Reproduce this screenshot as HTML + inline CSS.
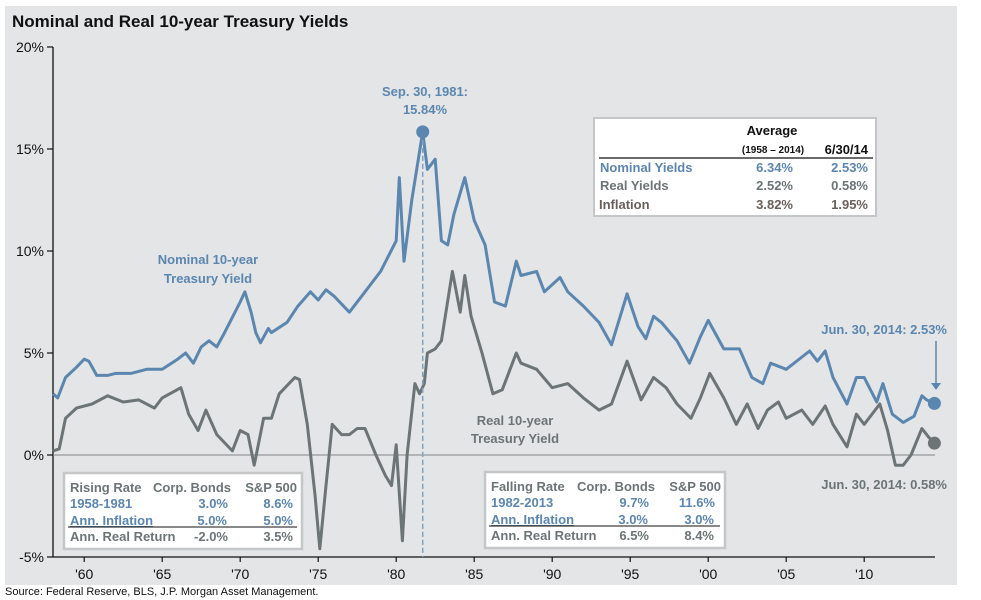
<!DOCTYPE html>
<html><head><meta charset="utf-8"><style>
html,body{margin:0;padding:0;background:#fff;}
svg{display:block;font-family:"Liberation Sans",Arial,sans-serif;}
.b{font-weight:bold;}
</style></head><body>
<svg id="chart" width="981" height="600" viewBox="0 0 981 600">
<rect x="5" y="6" width="952" height="579" fill="#e3e5e6"/>
<text x="12" y="27" font-size="17" class="b" fill="#111">Nominal and Real 10-year Treasury Yields</text>
<g id="axes"></g>
<g id="series"></g>

<text x="425" y="96" font-size="13" class="b" fill="#5b86b0" text-anchor="middle">Sep. 30, 1981:</text>
<text x="425" y="114" font-size="13" class="b" fill="#5b86b0" text-anchor="middle">15.84%</text>
<text x="208" y="264" font-size="13" class="b" fill="#5b86b0" text-anchor="middle">Nominal 10-year</text>
<text x="208" y="283" font-size="13" class="b" fill="#5b86b0" text-anchor="middle">Treasury Yield</text>
<text x="515" y="425" font-size="13" class="b" fill="#6d7476" text-anchor="middle">Real 10-year</text>
<text x="515" y="443" font-size="13" class="b" fill="#6d7476" text-anchor="middle">Treasury Yield</text>
<text x="947" y="334" font-size="13" class="b" fill="#5b86b0" text-anchor="end">Jun. 30, 2014: 2.53%</text>
<line x1="936" y1="341" x2="936" y2="384" stroke="#5b86b0" stroke-width="1.5"/>
<polygon points="931,383 941,383 936,390" fill="#5b86b0"/>
<text x="947" y="489" font-size="13" class="b" fill="#6d7476" text-anchor="end">Jun. 30, 2014: 0.58%</text>

<g>
<rect x="594" y="118" width="282" height="98" fill="#fff" stroke="#c4c6c7" stroke-width="2"/>
<text x="772" y="135" font-size="13" class="b" fill="#111" text-anchor="middle">Average</text>
<text x="773" y="153" font-size="10" class="b" fill="#111" text-anchor="middle">(1958 – 2014)</text>
<text x="868" y="154" font-size="13" class="b" fill="#111" text-anchor="end">6/30/14</text>
<line x1="599" y1="158" x2="873" y2="158" stroke="#111" stroke-width="1.3"/>
<text x="600" y="172" font-size="13" class="b" fill="#5b86b0">Nominal Yields</text>
<text x="793" y="172" font-size="13" class="b" fill="#5b86b0" text-anchor="end">6.34%</text>
<text x="868" y="172" font-size="13" class="b" fill="#5b86b0" text-anchor="end">2.53%</text>
<text x="600" y="190" font-size="13" class="b" fill="#6d7476">Real Yields</text>
<text x="793" y="190" font-size="13" class="b" fill="#6d7476" text-anchor="end">2.52%</text>
<text x="868" y="190" font-size="13" class="b" fill="#6d7476" text-anchor="end">0.58%</text>
<text x="599" y="209" font-size="13" class="b" fill="#6a5f5a">Inflation</text>
<text x="793" y="209" font-size="13" class="b" fill="#6a5f5a" text-anchor="end">3.82%</text>
<text x="868" y="209" font-size="13" class="b" fill="#6a5f5a" text-anchor="end">1.95%</text>
</g>

<g font-size="13">
<rect x="64" y="473" width="238" height="76" fill="#fff" stroke="#c4c6c7" stroke-width="2.5"/>
<text x="70" y="492" class="b" fill="#6d7476">Rising Rate</text>
<text x="153" y="492" class="b" fill="#6d7476">Corp. Bonds</text>
<text x="297" y="492" class="b" fill="#6d7476" text-anchor="end">S&amp;P 500</text>
<text x="70" y="508" class="b" fill="#5b86b0">1958-1981</text>
<text x="228" y="508" class="b" fill="#5b86b0" text-anchor="end">3.0%</text>
<text x="293" y="508" class="b" fill="#5b86b0" text-anchor="end">8.6%</text>
<text x="70" y="525" class="b" fill="#5b86b0" text-decoration="underline">Ann. Inflation</text>
<text x="227" y="525" class="b" fill="#5b86b0" text-anchor="end">5.0%</text>
<text x="293" y="525" class="b" fill="#5b86b0" text-anchor="end">5.0%</text>
<line x1="68" y1="527" x2="297" y2="527" stroke="#111" stroke-width="1"/>
<text x="70" y="541" class="b" fill="#6d7476">Ann. Real Return</text>
<text x="228" y="541" class="b" fill="#6d7476" text-anchor="end">-2.0%</text>
<text x="293" y="541" class="b" fill="#6d7476" text-anchor="end">3.5%</text>
</g>

<g font-size="13">
<rect x="485" y="472" width="240" height="76" fill="#fff" stroke="#c4c6c7" stroke-width="2.5"/>
<text x="491" y="491" class="b" fill="#6d7476">Falling Rate</text>
<text x="577" y="491" class="b" fill="#6d7476">Corp. Bonds</text>
<text x="721" y="491" class="b" fill="#6d7476" text-anchor="end">S&amp;P 500</text>
<text x="491" y="507" class="b" fill="#5b86b0">1982-2013</text>
<text x="649" y="507" class="b" fill="#5b86b0" text-anchor="end">9.7%</text>
<text x="715" y="507" class="b" fill="#5b86b0" text-anchor="end">11.6%</text>
<text x="491" y="524" class="b" fill="#5b86b0" text-decoration="underline">Ann. Inflation</text>
<text x="648" y="524" class="b" fill="#5b86b0" text-anchor="end">3.0%</text>
<text x="714" y="524" class="b" fill="#5b86b0" text-anchor="end">3.0%</text>
<line x1="489" y1="526" x2="720" y2="526" stroke="#111" stroke-width="1"/>
<text x="491" y="540" class="b" fill="#6d7476">Ann. Real Return</text>
<text x="649" y="540" class="b" fill="#6d7476" text-anchor="end">6.5%</text>
<text x="714" y="540" class="b" fill="#6d7476" text-anchor="end">8.4%</text>
</g>

<text x="5" y="595" font-size="11" fill="#111">Source: Federal Reserve, BLS, J.P. Morgan Asset Management.</text>
</svg>
<script>
const yTicks = [-5, 0, 5, 10, 15, 20];
const xTickYears = [1960, 1965, 1970, 1975, 1980, 1985, 1990, 1995, 2000, 2005, 2010];
const xTickLabels = ["'60", "'65", "'70", "'75", "'80", "'85", "'90", "'95", "'00", "'05", "'10"];
const nominalDates = [1958.0,1958.3,1958.8,1959.5,1960.0,1960.3,1960.8,1961.5,1962,1963,1964,1965,1966,1966.5,1967,1967.5,1968,1968.5,1969,1970,1970.3,1970.7,1971,1971.3,1971.8,1972,1973,1973.7,1974.5,1975,1975.5,1976,1977,1978,1979,1980,1980.2,1980.5,1981,1981.7,1982,1982.5,1982.9,1983.3,1983.7,1984.4,1985,1985.7,1986.3,1987,1987.7,1988,1989,1989.5,1990.5,1991,1992,1993,1993.8,1994.8,1995.5,1996,1996.5,1997,1998,1998.8,1999.5,2000,2001,2002,2002.8,2003.5,2004,2005,2006.5,2007,2007.5,2008,2008.9,2009.5,2010,2010.8,2011.2,2011.8,2012.5,2013.2,2013.7,2014,2014.5];
const nominalValues = [3.0,2.8,3.8,4.3,4.7,4.6,3.9,3.9,4.0,4.0,4.2,4.2,4.7,5.0,4.5,5.3,5.6,5.3,6.0,7.5,8.0,7.0,6.0,5.5,6.2,6.0,6.5,7.3,8.0,7.6,8.1,7.8,7.0,8.0,9.0,10.5,13.6,9.5,12.5,15.84,14.0,14.5,10.5,10.3,11.8,13.6,11.5,10.3,7.5,7.3,9.5,8.8,9.0,8.0,8.7,8.0,7.3,6.5,5.4,7.9,6.3,5.7,6.8,6.5,5.6,4.5,5.8,6.6,5.2,5.2,3.8,3.5,4.5,4.2,5.1,4.6,5.1,3.8,2.5,3.8,3.8,2.6,3.5,2.0,1.6,1.9,2.9,2.7,2.53];
const realDates = [1958.0,1958.4,1958.8,1959.5,1960.5,1961.5,1962.5,1963.5,1964.5,1965,1966.2,1966.7,1967.3,1967.8,1968.5,1969.5,1970,1970.5,1970.9,1971.5,1972,1972.5,1973.5,1973.8,1974.3,1974.8,1975.1,1975.5,1975.9,1976.5,1977,1977.5,1978,1978.7,1979.3,1979.7,1980.0,1980.4,1980.7,1981.2,1981.5,1981.8,1982,1982.5,1982.9,1983.6,1984.1,1984.4,1984.8,1985.5,1986.2,1986.8,1987.7,1988,1989,1990,1991,1992,1993,1993.8,1994.8,1995.7,1996.5,1997.3,1998,1998.9,1999.5,2000.1,2001,2001.8,2002.5,2003.2,2003.8,2004.5,2005,2006,2006.7,2007.5,2008,2008.9,2009.5,2010,2011,2011.5,2012,2012.5,2013,2013.7,2014.1,2014.5];
const realValues = [0.2,0.3,1.8,2.3,2.5,2.9,2.6,2.7,2.3,2.8,3.3,2.0,1.2,2.2,1.0,0.2,1.2,1.0,-0.5,1.8,1.8,3.0,3.8,3.7,1.5,-2.0,-4.6,-1.5,1.5,1.0,1.0,1.3,1.3,0.0,-1.0,-1.5,0.5,-4.2,0.0,3.5,3.0,3.5,5.0,5.2,5.6,9.0,7.0,8.8,6.8,5.0,3.0,3.2,5.0,4.5,4.2,3.3,3.5,2.8,2.2,2.5,4.6,2.7,3.8,3.3,2.5,1.8,2.8,4.0,2.8,1.5,2.5,1.3,2.2,2.6,1.8,2.2,1.5,2.4,1.5,0.4,2.0,1.5,2.5,1.2,-0.5,-0.5,0.0,1.3,0.9,0.58];
const peakDate = 1981.7, peakValue = 15.84;

const NS = "http://www.w3.org/2000/svg";
const x = yr => 53 + (yr - 1958) * 15.6;
const y = v => 455 - v * 20.4;
function mk(tag, attrs, parent) { const e = document.createElementNS(NS, tag); for (const k in attrs) e.setAttribute(k, attrs[k]); parent.appendChild(e); return e; }
const axes = document.getElementById('axes'), series = document.getElementById('series');

let e = mk('line', {x1: 53, y1: y(20), x2: 53, y2: y(-5), stroke: '#111', 'stroke-width': 1.3}, axes);


e = mk('line', {x1: 53, y1: y(-5), x2: 935, y2: y(-5), stroke: '#111', 'stroke-width': 1.3}, axes);


e = mk('line', {x1: 53, y1: y(0), x2: 935, y2: y(0), stroke: '#808285', 'stroke-width': 1}, axes);


yTicks.forEach(v => {
  const t = mk('line', {x1: 47, y1: y(v), x2: 53, y2: y(v), stroke: '#111', 'stroke-width': 1.2}, axes);
  
  
  const l = mk('text', {x: 44, y: y(v) + 5, 'font-size': 14, 'text-anchor': 'end', fill: '#111'}, axes);
  l.textContent = v + '%';
  
  
});
xTickYears.forEach((yr, i) => {
  const t = mk('line', {x1: x(yr), y1: y(-5), x2: x(yr), y2: y(-5) + 5, stroke: '#111', 'stroke-width': 1.2}, axes);
  
  
  const l = mk('text', {x: x(yr), y: 579, 'font-size': 14, 'text-anchor': 'middle', fill: '#111'}, axes);
  l.textContent = xTickLabels[i];
  
  
});
function pts(d, v) { return d.map((t, i) => x(t).toFixed(1) + ',' + y(v[i]).toFixed(1)).join(' '); }
e = mk('polyline', {points: pts(realDates, realValues), fill: 'none', stroke: '#6d7476', 'stroke-width': 3, 'stroke-linejoin': 'round'}, series);


e = mk('polyline', {points: pts(nominalDates, nominalValues), fill: 'none', stroke: '#5b86b0', 'stroke-width': 3, 'stroke-linejoin': 'round'}, series);


e = mk('line', {x1: x(peakDate), y1: y(peakValue), x2: x(peakDate), y2: y(-5), stroke: '#7fa2c4', 'stroke-width': 1.5, 'stroke-dasharray': '5,3'}, series);


e = mk('circle', {cx: x(peakDate), cy: y(peakValue), r: 6.5, fill: '#5b86b0'}, series);


e = mk('circle', {cx: x(nominalDates[nominalDates.length-1]), cy: y(nominalValues[nominalValues.length-1]), r: 6.5, fill: '#5b86b0'}, series);


e = mk('circle', {cx: x(realDates[realDates.length-1]), cy: y(realValues[realValues.length-1]), r: 6.5, fill: '#6d7476'}, series);


</script>
</body></html>
